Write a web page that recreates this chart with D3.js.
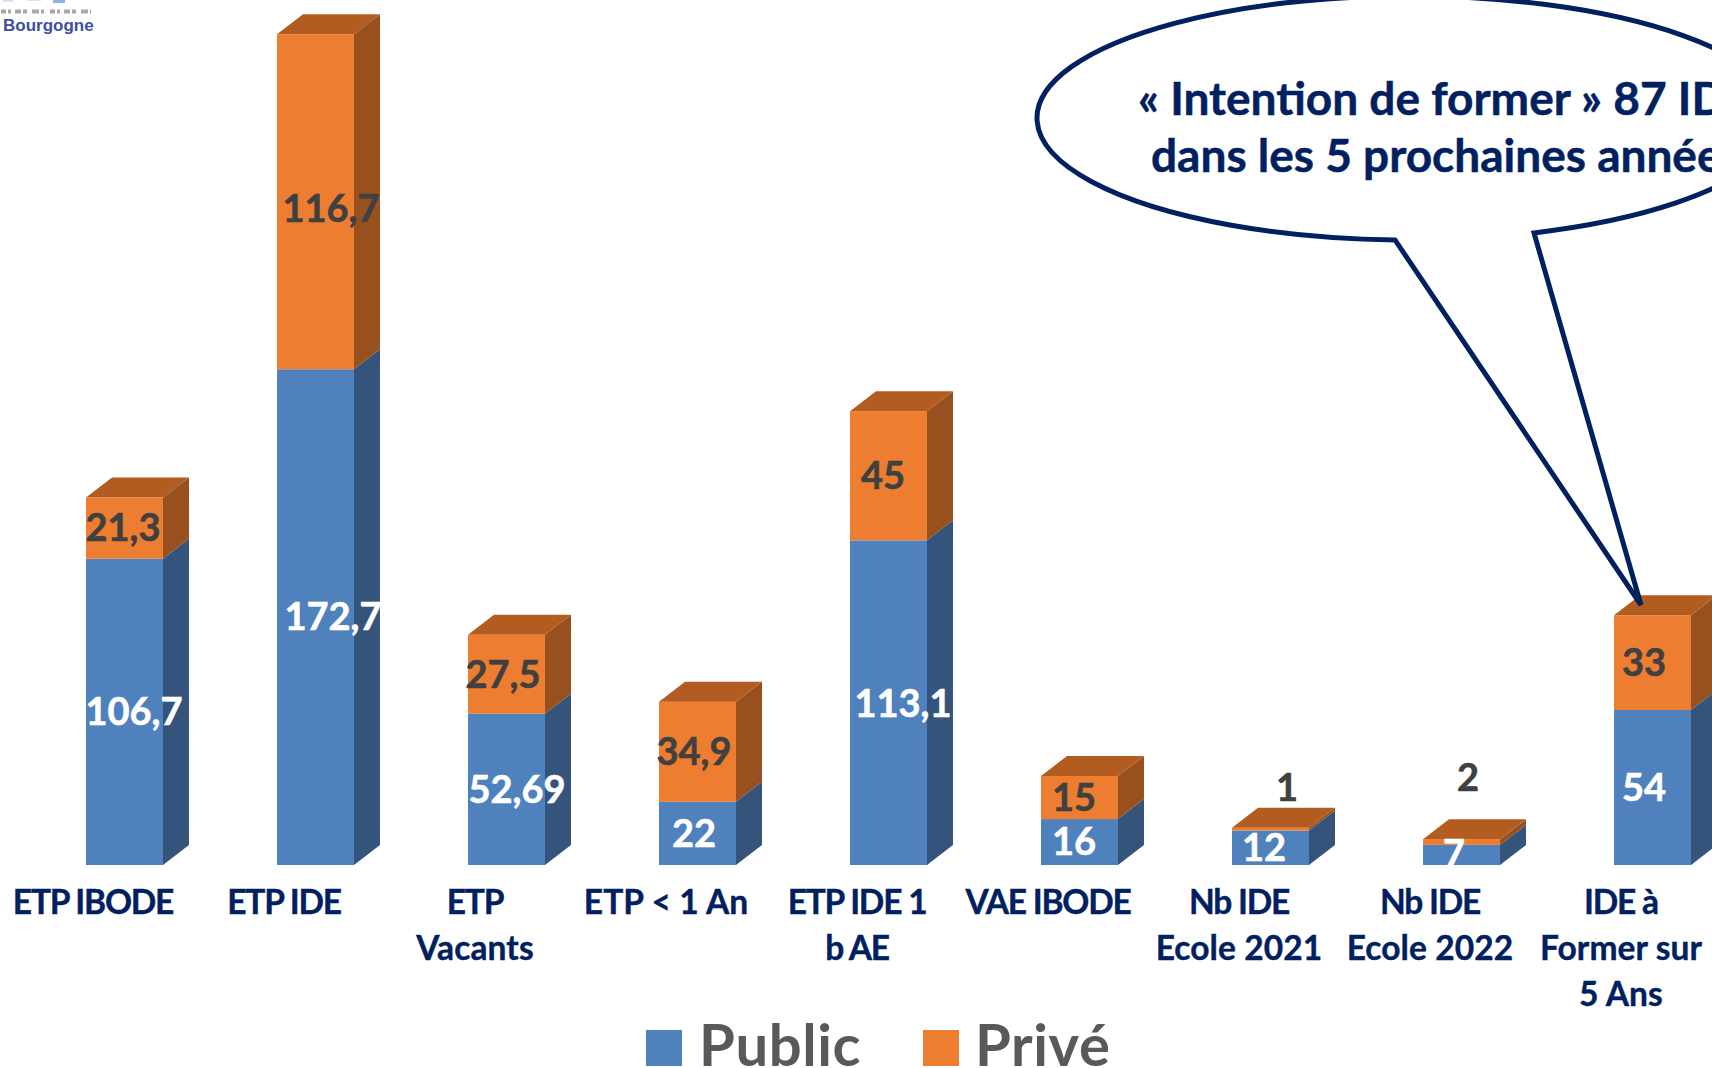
<!DOCTYPE html>
<html><head><meta charset="utf-8">
<script src="https://d3js.org/d3.v7.min.js"></script>
<style>html,body{margin:0;padding:0;background:#fff;overflow:hidden}svg{display:block}</style>
</head><body><div id="c"></div>
<script>
const categories = ["ETP IBODE","ETP IDE","ETP Vacants","ETP < 1 An","ETP IDE 1 b AE","VAE IBODE","Nb IDE Ecole 2021","Nb IDE Ecole 2022","IDE à Former sur 5 Ans"];
const categoryLines = [["ETP IBODE"],["ETP IDE"],["ETP","Vacants"],["ETP < 1 An"],["ETP IDE 1","b AE"],["VAE IBODE"],["Nb IDE","Ecole 2021"],["Nb IDE","Ecole 2022"],["IDE à","Former sur","5 Ans"]];
const publicValues = [106.7,172.7,52.69,22,113.1,16,12,7,54];
const priveValues = [21.3,116.7,27.5,34.9,45,15,1,2,33];
const publicLabels = ["106,7","172,7","52,69","22","113,1","16","12","7","54"];
const priveLabels = ["21,3","116,7","27,5","34,9","45","15","1","2","33"];
const seriesNames = ["Public","Privé"];
const calloutLines = ["« Intention de former » 87 IDE","dans les 5 prochaines années"];

// manual label nudges, in pixels, from the centre of each segment
const publicNudge = [[9.5,0],[17.5,0],[10.5,0],[-3.5,0],[14.5,1],[-5.5,0],[-6.5,0],[-7.5,-1],[-8.5,0]];
const priveNudge = [[-1.5,0],[15.5,7],[-3.5,0],[-3.5,0],[-5.5,0],[-5.5,0],[16.5,-41],[6.5,-64],[-8.5,0]];

const W=1712,H=1068,FONT="Lato, Carlito, Calibri, sans-serif";
const svg=d3.select("#c").append("svg").attr("width",W).attr("height",H).style("font-family",FONT);
const x=d3.scaleBand().domain(categories).range([86,1691]).paddingInner(0.597).paddingOuter(0);
const y=d3.scaleLinear().domain([0,290.2]).range([865,32]);
const depthX=26,depthY=20;
const colours={Public:{front:"#4F81BD",side:"#34547C"},"Privé":{front:"#ED7D31",side:"#97501E",top:"#B25C21"}};

// logo fragment, cropped by the top edge; its small grey line is unreadable in the source
const logo=svg.append("g");
[[3,0,10,2,"#d5e3f6"],[27,0,14,1,"#d5e3f6"],[53,0,12,3,"#8fb4e6"]].forEach(r=>logo.append("rect").attr("x",r[0]).attr("y",r[1]).attr("width",r[2]).attr("height",r[3]).attr("fill",r[4]));
logo.append("line").attr("x1",1).attr("x2",91).attr("y1",11.5).attr("y2",11.5).attr("stroke","#a8a8a8").attr("stroke-width",4).attr("stroke-dasharray","5 2 3 4 6 2 4 5 7 2 3 6");
logo.append("text").attr("x",3).attr("y",31).attr("font-family","Liberation Sans").attr("font-weight",700).attr("font-size",17).attr("fill","#3F4EA3").text("Bourgogne");

// bars
const rows=categories.map((c,i)=>({c,i,pub:publicValues[i],pri:priveValues[i]}));
const g=svg.append("g");
const bar=g.selectAll("g.bar").data(rows).join("g").attr("class","bar");
function seg(sel,name,from,to,isTop){
  const col=colours[name],w=x.bandwidth();
  sel.append("path").attr("fill",col.side).attr("d",d=>{const X=x(d.c)+w,a=y(from(d)),b=y(to(d));
    return `M${X},${a}L${X+depthX},${a-depthY}L${X+depthX},${b-depthY}L${X},${b}Z`;});
  sel.append("rect").attr("fill",col.front).attr("x",d=>x(d.c)).attr("width",w).attr("y",d=>y(to(d))).attr("height",d=>y(from(d))-y(to(d)));
  if(isTop) sel.append("path").attr("fill",col.top).attr("d",d=>{const X=x(d.c),b=y(to(d));
    return `M${X},${b}L${X+depthX},${b-depthY}L${X+w+depthX},${b-depthY}L${X+w},${b}Z`;});
}
seg(bar,"Public",d=>0,d=>d.pub,false);
seg(bar,"Privé",d=>d.pub,d=>d.pub+d.pri,true);

// labels, clipped at the baseline as in the source
svg.append("clipPath").attr("id","base").append("rect").attr("x",0).attr("y",0).attr("width",W).attr("height",y(0));
const labels=svg.append("g").attr("clip-path","url(#base)").attr("font-weight",700).attr("font-size",38).attr("text-anchor","middle").attr("stroke-width",0.6);
labels.selectAll("text.pub").data(rows).join("text").attr("class","pub").attr("fill","#fff").attr("stroke","#fff")
  .attr("x",d=>x(d.c)+x.bandwidth()/2+publicNudge[d.i][0]).attr("y",d=>y(d.pub/2)+publicNudge[d.i][1]).attr("dy","0.35em").text(d=>publicLabels[d.i]);
labels.selectAll("text.pri").data(rows).join("text").attr("class","pri").attr("fill","#404040").attr("stroke","#404040")
  .attr("x",d=>x(d.c)+x.bandwidth()/2+priveNudge[d.i][0]).attr("y",d=>y(d.pub+d.pri/2)+priveNudge[d.i][1]).attr("dy","0.35em").text(d=>priveLabels[d.i]);

// category axis
const axis=svg.append("g").attr("transform",`translate(-31.5,${y(0)})`).call(d3.axisBottom(x).tickSize(0));
axis.select(".domain").remove();
axis.selectAll(".tick text").each(function(c){
  const t=d3.select(this).text(null).attr("y",null).attr("dy",null).attr("fill","#002060").attr("font-family",FONT).attr("font-weight",700).attr("font-size",33.5).attr("stroke","#002060").attr("stroke-width",0.4);
  categoryLines[categories.indexOf(c)].forEach((l,k)=>{
    const caps=(l.match(/[A-Z]/g)||[]).length/l.length>0.4;
    t.append("tspan").attr("x",0).attr("y",49+k*46).attr("letter-spacing",caps?-1.2:0.1).text(l);
  });
});

// callout
const cx=1409,cy=118,rx=372,ry=122,leftX=1395,rightX=1534;
const ey=X=>cy+ry*Math.sqrt(1-((X-cx)/rx)**2);
svg.append("path").attr("fill","#fff").attr("stroke","#002060").attr("stroke-width",5).attr("stroke-linejoin","miter")
  .attr("d",`M${leftX},${ey(leftX)}A${rx},${ry} 0 1 1 ${rightX},${ey(rightX)}L1641,605Z`);
const cl=svg.append("g").attr("font-weight",700).attr("font-size",46).attr("fill","#002060").attr("stroke","#002060").attr("stroke-width",0.5);
cl.append("text").attr("x",1138).attr("y",115).text(calloutLines[0]);
cl.append("text").attr("x",1151).attr("y",172).text(calloutLines[1]);

// legend
const leg=svg.append("g");
[[646,699],[923,975]].forEach((p,k)=>{
  leg.append("rect").attr("x",p[0]).attr("y",1030).attr("width",36).attr("height",36).attr("fill",colours[seriesNames[k]].front);
  leg.append("text").attr("x",p[1]).attr("y",1066).attr("font-weight",700).attr("font-size",58).attr("letter-spacing",0.6).attr("fill","#595959").text(seriesNames[k]);
});
</script></body></html>
